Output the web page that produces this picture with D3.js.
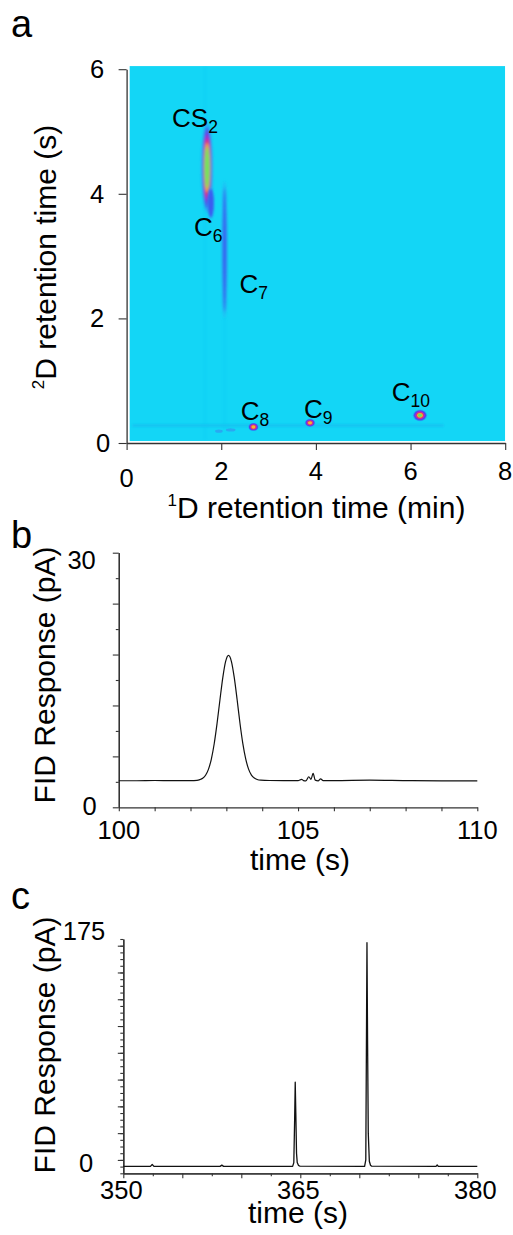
<!DOCTYPE html>
<html><head><meta charset="utf-8">
<script src="https://cdn.jsdelivr.net/npm/d3@7"></script>
<style>
html,body{margin:0;padding:0;background:#fff;}
svg{display:block;font-family:"Liberation Sans",Arial,sans-serif;}
</style></head><body>
<svg id="fig" width="513" height="1235"></svg>
<script>
// ---------- panel a: GC×GC contour plot ----------
const mapRt1 = [0.06, 8.0];
const mapRt2 = [0.03, 6.05];
const aTicksX = [0, 2, 4, 6, 8];
const aTicksY = [0, 2, 4, 6];
// spots: 1D retention (min), 2D retention (s), half width (min), half height (s), intensity level
const spotRt1 = [1.70, 1.78, 2.07, 2.68, 3.876, 6.20, 1.95, 2.2];
const spotRt2 = [4.42, 3.85, 3.10, 0.257, 0.324, 0.444, 0.19, 0.21];
const spotW = [0.11, 0.07, 0.045, 0.11, 0.11, 0.15, 0.08, 0.1];
const spotH = [0.72, 0.25, 1.1, 0.066, 0.066, 0.095, 0.025, 0.025];
const spotLevel = [7, 2, 2, 6, 6, 7, 1, 1];
// faint modulation streaks
const streakRt1From = [0.12, 1.66, 2.07];
const streakRt1To = [6.7, 1.66, 2.07];
const streakRt2From = [0.28, 0.05, 0.2];
const streakRt2To = [0.28, 6.05, 2.0];
// compound labels
const labelBase = ["CS", "C", "C", "C", "C", "C"];
const labelSub = ["2", "6", "7", "8", "9", "10"];
const labelRt1 = [0.961, 1.426, 2.383, 2.412, 3.749, 5.602];
const labelRt2 = [5.075, 3.321, 2.407, 0.369, 0.401, 0.679];

// ---------- panel b: 1D chromatogram, CS2 region ----------
const bTime = [100.0, 100.5, 101.0, 101.5, 102.0, 102.18, 102.26, 102.34, 102.42, 102.50, 102.58, 102.66, 102.74, 102.82, 102.90, 102.98, 103.06, 103.14, 103.22, 103.30, 103.38, 103.46, 103.54, 103.62, 103.70, 103.78, 103.86, 103.96, 104.2, 104.6, 105.0, 105.1, 105.15, 105.22, 105.3, 105.36, 105.42, 105.48, 105.56, 105.63, 105.7, 106.0, 107.0, 108.0, 109.0, 110.0];
const bSignal = [3.13, 3.13, 3.16, 3.14, 3.15, 3.18, 3.26, 3.42, 3.78, 4.47, 5.66, 7.46, 9.86, 12.62, 15.26, 17.19, 17.9, 17.2, 15.3, 12.7, 9.9, 7.5, 5.7, 4.5, 3.8, 3.45, 3.28, 3.2, 3.16, 3.15, 3.15, 3.3, 3.15, 3.12, 3.6, 3.3, 4.0, 3.2, 3.12, 3.35, 3.15, 3.15, 3.2, 3.15, 3.12, 3.12];
const bMajorY = [0, 6, 12, 18, 24, 30];
const bMinorY = [3, 9, 15, 21, 27];
const bTicksX = [100, 101, 102, 103, 104, 105, 106, 107, 108, 109, 110];
const bLabelsX = [100, 105, 110];

// ---------- panel c: 1D chromatogram, late region ----------
const cTime = [350, 352.3, 352.45, 352.6, 358.2, 358.35, 358.5, 364.35, 364.45, 364.52, 364.57, 364.62, 364.68, 364.74, 364.85, 364.97, 370.45, 370.55, 370.6, 370.65, 370.7, 370.76, 370.85, 370.95, 371.05, 376.5, 376.6, 376.7, 380];
const cSignal = [5.2, 5.2, 6.6, 5.2, 5.2, 6.1, 5.2, 5.2, 8, 40, 68, 45, 15, 8, 5.8, 5.3, 5.2, 10, 90, 172.2, 100, 30, 9, 6, 5.3, 5.2, 6.2, 5.2, 5.2];
const cMajorY = [10, 30, 50, 70, 90, 110, 130, 150, 170];
const cMinorY = d3.range(0, 176, 5);
const cMajorX = [350, 355, 360, 365, 370, 375, 380];
const cMinorX = [352.5, 357.5, 362.5, 367.5, 372.5, 377.5];
const cLabelsX = [350, 365, 380];

const spotColors = ["#29a8f2", "#3b5cf0", "#6c34e2", "#b42cc6", "#e6335c", "#f0b234", "#62e85f"];
const axisColor = "#333";
const tickFont = 25.5, titleFont = 30;

const svg = d3.select("#fig");
svg.append("rect").attr("width", 513).attr("height", 1235).attr("fill", "#fff");

const defs = svg.append("defs");
function blurFilter(id, sd) {
  defs.append("filter").attr("id", id).attr("x", "-50%").attr("y", "-50%").attr("width", "200%").attr("height", "200%")
    .append("feGaussianBlur").attr("stdDeviation", sd);
}
blurFilter("sharp", 0.7);
blurFilter("soft", 1.1);
blurFilter("haze", 1.6);

function styleAxis(g) {
  g.selectAll("path.domain").attr("stroke", axisColor).attr("stroke-width", 1.3);
  g.selectAll(".tick line").attr("stroke", axisColor).attr("stroke-width", 1.1);
  g.selectAll(".tick text").remove();
}
function panelLetter(t, x, y) {
  svg.append("text").attr("x", x).attr("y", y).attr("font-size", 38).attr("fill", "#000").text(t);
}
function tickLabel(t, x, y, anchor) {
  svg.append("text").attr("x", x).attr("y", y).attr("font-size", tickFont)
    .attr("text-anchor", anchor).attr("fill", "#000").text(t);
}

// ================= panel a =================
panelLetter("a", 11, 37);
const xA = d3.scaleLinear().domain([0, 8]).range([126.6, 505.2]);
const yA = d3.scaleLinear().domain([0, 6]).range([443, 69.2]);

defs.append("clipPath").attr("id", "mapClip").append("rect")
  .attr("x", xA(mapRt1[0])).attr("y", yA(mapRt2[1]))
  .attr("width", xA(mapRt1[1]) - xA(mapRt1[0])).attr("height", yA(mapRt2[0]) - yA(mapRt2[1]));

const map = svg.append("g").attr("clip-path", "url(#mapClip)");
map.append("rect")
  .attr("x", xA(mapRt1[0])).attr("y", yA(mapRt2[1]))
  .attr("width", xA(mapRt1[1]) - xA(mapRt1[0])).attr("height", yA(mapRt2[0]) - yA(mapRt2[1]))
  .attr("fill", "#13d6f6");

// streaks
const streakG = map.append("g").attr("filter", "url(#soft)");
streakRt1From.forEach((v, i) => {
  const horizontal = streakRt2From[i] === streakRt2To[i];
  streakG.append("line")
    .attr("x1", xA(v)).attr("x2", xA(streakRt1To[i]))
    .attr("y1", yA(streakRt2From[i])).attr("y2", yA(streakRt2To[i]))
    .attr("stroke", horizontal ? "#1bb6ef" : "#10bdf0")
    .attr("stroke-opacity", horizontal ? 0.85 : 0.14)
    .attr("stroke-width", horizontal ? 2 : 4);
});

// spots: nested ellipses, one per intensity level
spotRt1.forEach((r1, i) => {
  const cx = xA(r1), cy = yA(spotRt2[i]);
  const rx = xA(r1 + spotW[i]) - cx;
  const ry = cy - yA(spotRt2[i] + spotH[i]);
  const small = ry < 7;
  const g = map.append("g").attr("filter", small ? "url(#sharp)" : (i === 0 || i === 2 ? "url(#haze)" : "url(#soft)"));
  const step = small ? 0.12 : 0.09;
  for (let k = 0; k < spotLevel[i]; k++) {
    const f = 1 - step * k;
    g.append("ellipse").attr("cx", cx).attr("cy", cy)
      .attr("rx", rx * f).attr("ry", ry * f)
      .attr("fill", spotColors[k]);
  }
});

// compound labels
labelBase.forEach((b, i) => {
  const t = svg.append("text").attr("x", xA(labelRt1[i])).attr("y", yA(labelRt2[i]))
    .attr("font-size", 26).attr("fill", "#000");
  t.append("tspan").text(b);
  t.append("tspan").attr("font-size", 17.5).attr("dy", 6).text(labelSub[i]);
});

// axes
const axAy = svg.append("g").attr("transform", `translate(${xA(0)},0)`)
  .call(d3.axisLeft(yA).tickValues(aTicksY).tickSize(8).tickSizeOuter(0));
styleAxis(axAy);
const axAx = svg.append("g").attr("transform", `translate(0,${yA(0)})`)
  .call(d3.axisBottom(xA).tickValues(aTicksX).tickSize(7).tickSizeOuter(0));
styleAxis(axAx);
aTicksY.forEach(v => tickLabel(String(v), xA(0) - 22.5 + (v === 0 ? 6 : 0), yA(v) + 9, "end"));
aTicksX.forEach(v => tickLabel(String(v), xA(v), 480 + (v === 0 ? 7 : 0), "middle"));

// axis titles
const xtA = svg.append("text").attr("x", 316.5).attr("y", 518).attr("text-anchor", "middle")
  .attr("font-size", titleFont).attr("fill", "#000");
xtA.append("tspan").attr("font-size", 17).attr("dy", -12).text("1");
xtA.append("tspan").attr("dy", 12).text("D retention time (min)");
const ytA = svg.append("text").attr("transform", "translate(56,257) rotate(-90)")
  .attr("text-anchor", "middle").attr("font-size", titleFont).attr("fill", "#000");
ytA.append("tspan").attr("font-size", 17).attr("dy", -12).text("2");
ytA.append("tspan").attr("dy", 12).text("D retention time (s)");

// ================= panel b =================
panelLetter("b", 11, 548);
const xB = d3.scaleLinear().domain([100, 110]).range([118.8, 477.3]);
const yB = d3.scaleLinear().domain([0, 30]).range([807.3, 552.7]);

const bMinor = svg.append("g").attr("transform", `translate(${xB(100)},0)`)
  .call(d3.axisLeft(yB).tickValues(bMinorY).tickSize(3).tickSizeOuter(0));
styleAxis(bMinor);
const bMajor = svg.append("g").attr("transform", `translate(${xB(100)},0)`)
  .call(d3.axisLeft(yB).tickValues(bMajorY).tickSize(6).tickSizeOuter(0));
styleAxis(bMajor);
const bX = svg.append("g").attr("transform", `translate(0,${yB(0)})`)
  .call(d3.axisBottom(xB).tickValues(bTicksX).tickSize(4).tickSizeOuter(0));
styleAxis(bX);
tickLabel("30", xB(100) - 23, yB(30) + 16, "end");
tickLabel("0", xB(100) - 22, yB(0) + 8, "end");
bLabelsX.forEach(v => tickLabel(String(v), xB(v), 838.5, "middle"));

svg.append("path")
  .attr("d", d3.line().x((d, i) => xB(bTime[i])).y((d, i) => yB(d)).curve(d3.curveMonotoneX)(bSignal))
  .attr("fill", "none").attr("stroke", "#111").attr("stroke-width", 1.2);

svg.append("text").attr("x", 300).attr("y", 870).attr("text-anchor", "middle")
  .attr("font-size", titleFont).attr("fill", "#000").text("time (s)");
svg.append("text").attr("transform", "translate(55,675) rotate(-90)").attr("text-anchor", "middle")
  .attr("font-size", titleFont).attr("fill", "#000").text("FID Response (pA)");

// ================= panel c =================
panelLetter("c", 11, 909);
const xC = d3.scaleLinear().domain([350, 380]).range([123.3, 477.3]);
const yC = d3.scaleLinear().domain([0, 175]).range([1173.3, 939]);

const cMin = svg.append("g").attr("transform", `translate(${xC(350)},0)`)
  .call(d3.axisLeft(yC).tickValues(cMinorY).tickSize(3).tickSizeOuter(0));
styleAxis(cMin);
const cMaj = svg.append("g").attr("transform", `translate(${xC(350)},0)`)
  .call(d3.axisLeft(yC).tickValues(cMajorY).tickSize(5.5).tickSizeOuter(0));
styleAxis(cMaj);
const cXmin = svg.append("g").attr("transform", `translate(0,${yC(0)})`)
  .call(d3.axisBottom(xC).tickValues(cMinorX).tickSize(3).tickSizeOuter(0));
styleAxis(cXmin);
const cXmaj = svg.append("g").attr("transform", `translate(0,${yC(0)})`)
  .call(d3.axisBottom(xC).tickValues(cMajorX).tickSize(5).tickSizeOuter(0));
styleAxis(cXmaj);
tickLabel("175", xC(350) - 18, yC(175) + 1, "end");
tickLabel("0", xC(350) - 30, yC(0) - 1.5, "end");
cLabelsX.forEach(v => tickLabel(String(v), xC(v) - 2, 1199, "middle"));

svg.append("path")
  .attr("d", d3.line().x((d, i) => xC(cTime[i])).y((d, i) => yC(d))(cSignal))
  .attr("fill", "none").attr("stroke", "#111").attr("stroke-width", 1.3).attr("stroke-linejoin", "round");

svg.append("text").attr("x", 298).attr("y", 1223).attr("text-anchor", "middle")
  .attr("font-size", titleFont).attr("fill", "#000").text("time (s)");
svg.append("text").attr("transform", "translate(55,1045) rotate(-90)").attr("text-anchor", "middle")
  .attr("font-size", titleFont).attr("fill", "#000").text("FID Response (pA)");
</script>
</body></html>
